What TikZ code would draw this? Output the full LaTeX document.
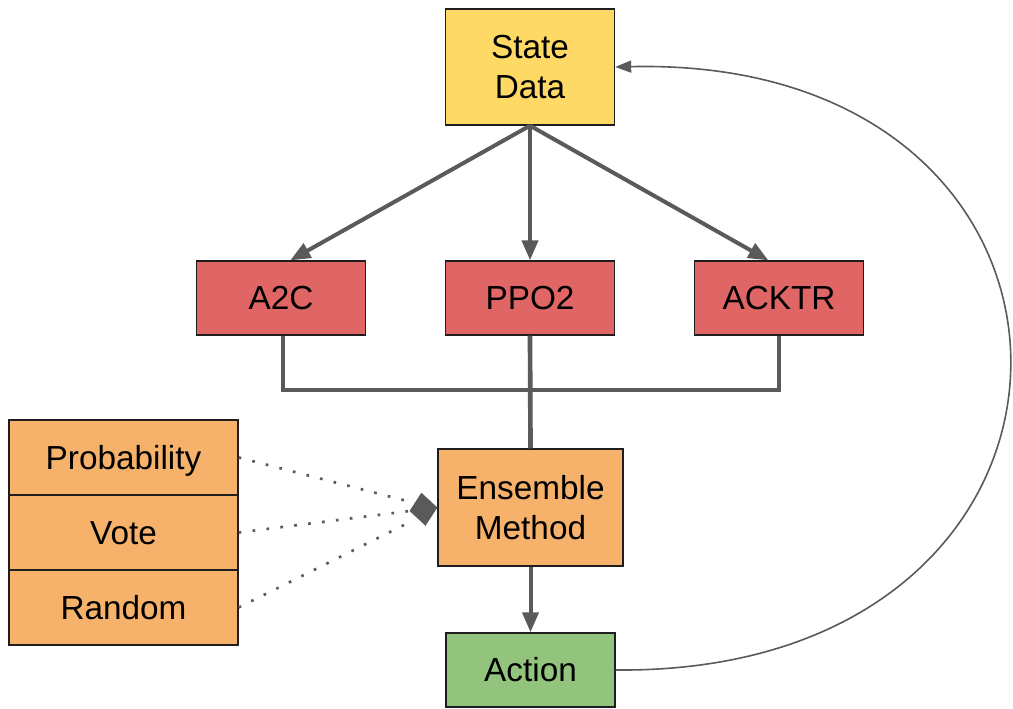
\documentclass[tikz,border=0pt]{standalone}
\usepackage{fontspec}
\setmainfont{Liberation Sans}
\usetikzlibrary{arrows.meta}
\definecolor{ylw}{RGB}{255,217,102}
\definecolor{redb}{RGB}{224,102,102}
\definecolor{orng}{RGB}{246,178,107}
\definecolor{grn}{RGB}{147,196,125}
\definecolor{ln}{RGB}{90,90,90}
\definecolor{bord}{RGB}{30,30,30}
\begin{document}
\begin{tikzpicture}[x=0.75pt,y=-0.75pt,
  box/.style={draw=bord, line width=1pt, inner sep=0pt, align=center,
    font=\fontsize{25}{30}\selectfont, minimum width=126.75pt, minimum height=55.5pt},
  one/.style={text height=17.9pt, text depth=0pt},
  flow/.style={draw=ln, line width=3pt, -{Triangle[length=15pt,width=12pt]}},
  merge/.style={draw=ln, line width=2.5pt},
  dots/.style={draw=ln, line width=2pt, dash pattern=on 2pt off 8.5pt}]
\useasboundingbox (0,0) rectangle (1013,709);

\node[box, fill=ylw, minimum height=87pt] (state) at (530,67) {State\\Data};
\node[box, one, fill=redb] (a2c) at (281,298) {A2C};
\node[box, one, fill=redb] (ppo) at (530,298) {PPO2};
\node[box, one, fill=redb] (acktr) at (779,298) {ACKTR};
\node[box, fill=orng, minimum width=138.75pt, minimum height=87.75pt] (ens) at (530.5,507.5) {Ensemble\\Method};
\node[box, one, fill=grn] (act) at (530.5,670) {Action};

\node[box, one, fill=orng, minimum width=171.75pt, minimum height=56.25pt] (prob) at (123.5,457.5) {Probability};
\node[box, one, fill=orng, minimum width=171.75pt, minimum height=56.25pt] (vote) at (123.5,532.5) {Vote};
\node[box, one, fill=orng, minimum width=171.75pt, minimum height=56.25pt] (rand) at (123.5,607.5) {Random};

% arrows from state data
\draw[flow] (state.south) -- ([xshift=7pt]a2c.north);
\draw[flow] (state.south) -- (ppo.north);
\draw[flow] (state.south) -- ([xshift=-8pt]acktr.north);

% merge
\coordinate (mb) at (779,390);
\draw[merge] ([xshift=1.5pt]a2c.south) |- (mb) -- (acktr.south);
\draw[draw=ln, line width=3.5pt] (ppo.south) -- (ens.north);

% ensemble to action
\draw[flow] (ens.south) -- (act.north);

% dotted inputs
\coordinate (e1) at (411,502);
\coordinate (e3) at (412,521);
\draw[dots] (prob.east) -- (e1);
\draw[dots] (rand.east) -- (e3);
\draw[dots, -{Diamond[length=21pt,width=25pt,line width=0pt]}] (vote.east) -- (ens.west);

% feedback loop
\draw[draw=ln, line width=1.2pt, -{Triangle[length=12pt,width=9pt]}]
  (act.east) .. controls (1140,675) and (1140,55) .. (state.east);
\end{tikzpicture}
\end{document}
